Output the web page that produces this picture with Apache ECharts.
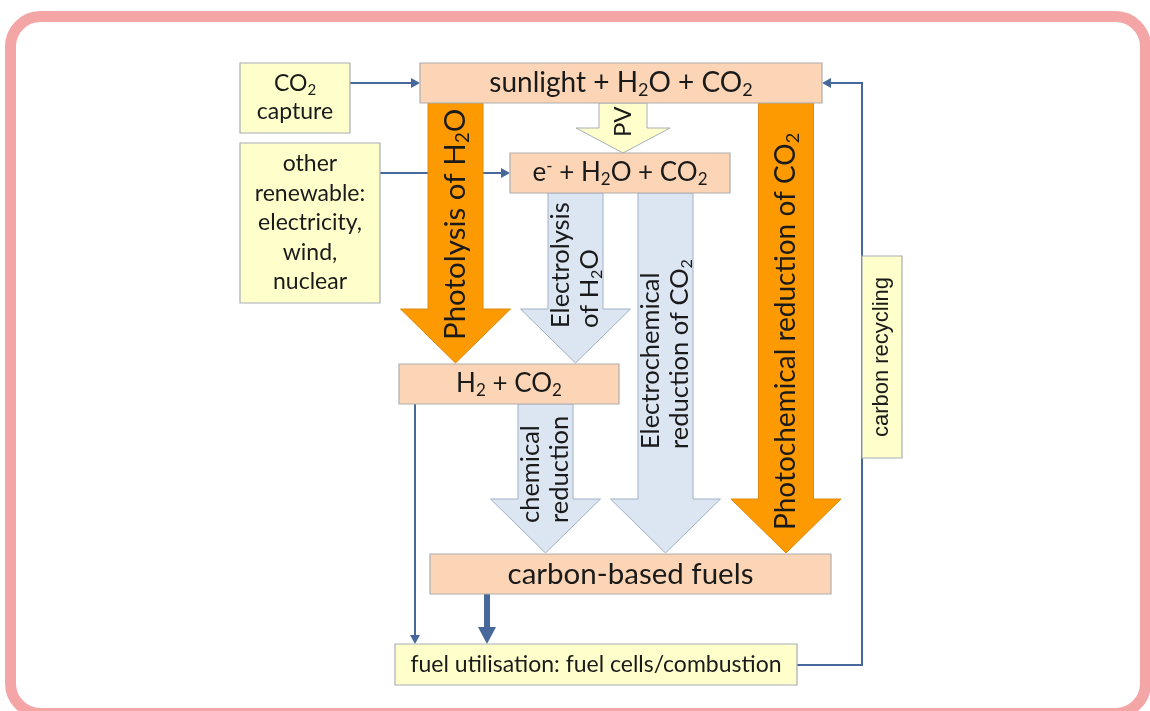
<!DOCTYPE html>
<html>
<head>
<meta charset="utf-8">
<title>Solar fuels pathways</title>
<script src="https://cdn.jsdelivr.net/npm/echarts/dist/echarts.min.js"></script>
<style>
  html, body { margin: 0; padding: 0; background: #fff; }
  #chart { width: 1150px; height: 711px; }
</style>
</head>
<body>
<div id="chart"></div>
<script>
// ---- diagram content (diagram units = the hidden axes below) ----
// boxes: label text and extent [x0, y0, x1, y1]
const boxNames = [
  'CO{s|2}\ncapture',
  'other\nrenewable:\nelectricity,\nwind,\nnuclear',
  'sunlight + H{s|2}O + CO{s|2}',
  'e{u|-} + H{s|2}O + CO{s|2}',
  'H{s|2} + CO{s|2}',
  'carbon-based fuels',
  'fuel utilisation: fuel cells/combustion',
  'carbon recycling'
];
const boxKind = ['source', 'source', 'stage', 'stage', 'stage', 'stage', 'source', 'source'];
const boxExtent = [
  [240, 63, 350, 133],
  [240, 143, 380, 303],
  [420, 63, 822, 103],
  [510, 153, 730, 193],
  [399, 364, 619, 404],
  [430, 554, 831, 594],
  [395, 644, 797, 685],
  [862, 256, 902, 458]
];

// block arrows (processes): label, kind, geometry [xc, yTop, yHead, yTip, shaftW, headW]
const flowNames = [
  'Photolysis of H{s|2}O',
  'PV',
  'Electrolysis\nof H{s|2}O',
  'Electrochemical\nreduction of CO{s|2}',
  'Photochemical reduction of CO{s|2}',
  'chemical\nreduction'
];
const flowKind = ['photo', 'pv', 'electro', 'electro', 'photo', 'electro'];
const flowGeom = [
  [455.5, 103, 309, 363, 55, 110],
  [623, 103, 128, 153, 48, 94],
  [575.5, 193, 309, 363, 55, 110],
  [665.5, 193, 499, 553, 55, 110],
  [786, 103, 499, 553, 55, 110],
  [545.5, 404, 499, 553, 55, 110]
];
// where each rotated label starts (reading bottom to top)
const flowLabelStart = [340, 137, 328, 449, 530, 523];

// connectors: polyline points, last point is the arrow tip
const linkPaths = [
  [[350, 83], [420, 83]],
  [[380, 173], [510, 173]],
  [[415, 404], [415, 644]],
  [[487, 594], [487, 644]],
  [[797, 665], [862, 665], [862, 83], [822, 83]]
];
const linkKind = ['thin', 'thin', 'thin', 'thick', 'thin'];

// ---- styles ----
const FONT = 'Lato, Carlito, Calibri, sans-serif';
const SANS = '"Liberation Sans", Arial, sans-serif';
const INK = '#1a1a1a';
const boxStyle = {
  source: { fill: '#ffffcc', stroke: '#a7aeb6' },
  stage: { fill: '#fbd5b5', stroke: '#b0aeb0' }
};
// label font per box: [size, lineHeight, family]
const boxFontMap = {
  0: [23, 28, FONT], 1: [23, 29.5, FONT], 2: [28, 32, FONT], 3: [26, 30, FONT],
  4: [26, 30, FONT], 5: [29.5, 32, FONT], 6: [23, 28, FONT], 7: [22, 24, SANS]
};
const flowStyle = {
  photo: { fill: '#fd9a01', stroke: '#e08a0a' },
  pv: { fill: '#ffffcc', stroke: '#a7aeb6' },
  electro: { fill: '#dce6f2', stroke: '#9fb0c6' }
};
const flowFontMap = { 0: 29.5, 1: 24, 2: 25.5, 3: 25.5, 4: 28, 5: 25.5 };
const linkStyle = {
  thin: { width: 2, headLen: 9, headHalf: 5 },
  thick: { width: 6, headLen: 17, headHalf: 9 }
};
const LINK_COLOR = '#46689a';

function richFor(size, family) {
  const small = Math.round(size * 0.64);
  return {
    s: { fontSize: small, lineHeight: small, fontFamily: family, fill: INK, padding: [Math.round(size * 0.5), 0, 0, 0] },
    u: { fontSize: small, lineHeight: small, fontFamily: family, fill: INK, padding: [0, 0, Math.round(size * 0.5), 0] }
  };
}

function renderLink(params, api) {
  const i = params.dataIndex;
  const st = linkStyle[linkKind[i]];
  const pts = linkPaths[i].map(p => api.coord(p));
  const tip = pts[pts.length - 1];
  const prev = pts[pts.length - 2];
  const dx = tip[0] - prev[0], dy = tip[1] - prev[1];
  const len = Math.sqrt(dx * dx + dy * dy);
  const ux = dx / len, uy = dy / len;
  const bx = tip[0] - ux * st.headLen, by = tip[1] - uy * st.headLen;
  const line = pts.slice(0, -1).concat([[bx + ux, by + uy]]);
  return {
    type: 'group',
    children: [
      { type: 'polyline', shape: { points: line }, style: { stroke: LINK_COLOR, lineWidth: st.width, fill: null } },
      {
        type: 'polygon',
        shape: { points: [tip, [bx - uy * st.headHalf, by + ux * st.headHalf], [bx + uy * st.headHalf, by - ux * st.headHalf]] },
        style: { fill: LINK_COLOR }
      }
    ]
  };
}

function renderFlow(params, api) {
  const i = params.dataIndex;
  const g = flowGeom[i];
  const st = flowStyle[flowKind[i]];
  const size = flowFontMap[i];
  const sw = g[4] / 2, hw = g[5] / 2;
  const pts = [
    [g[0] - sw, g[1]], [g[0] + sw, g[1]], [g[0] + sw, g[2]], [g[0] + hw, g[2]],
    [g[0], g[3]], [g[0] - hw, g[2]], [g[0] - sw, g[2]]
  ].map(p => api.coord(p));
  const anchor = api.coord([g[0], flowLabelStart[i]]);
  return {
    type: 'group',
    children: [
      { type: 'polygon', shape: { points: pts }, style: { fill: st.fill, stroke: st.stroke, lineWidth: 1 } },
      {
        type: 'text', x: anchor[0], y: anchor[1], rotation: Math.PI / 2,
        style: {
          text: flowNames[i], fill: INK, fontSize: size, fontFamily: FONT,
          lineHeight: Math.round(size * 1.13), align: 'left', verticalAlign: 'middle',
          rich: richFor(size, FONT)
        }
      }
    ]
  };
}

function renderBox(params, api) {
  const i = params.dataIndex;
  const e = boxExtent[i];
  const p0 = api.coord([e[0], e[1]]);
  const p1 = api.coord([e[2], e[3]]);
  const st = boxStyle[boxKind[i]];
  const f = boxFontMap[i];
  return {
    type: 'group',
    children: [
      {
        type: 'rect', shape: { x: p0[0], y: p0[1], width: p1[0] - p0[0], height: p1[1] - p0[1] },
        style: { fill: st.fill, stroke: st.stroke, lineWidth: 1.2 }
      },
      {
        type: 'text', x: (p0[0] + p1[0]) / 2, y: (p0[1] + p1[1]) / 2,
        rotation: i === 7 ? Math.PI / 2 : 0,
        style: {
          text: boxNames[i], fill: INK, fontSize: f[0], fontFamily: f[2], lineHeight: f[1],
          align: 'center', verticalAlign: 'middle', rich: richFor(f[0], f[2])
        }
      }
    ]
  };
}

const chart = echarts.init(document.getElementById('chart'));
chart.setOption({
  animation: false,
  backgroundColor: '#fff',
  grid: { left: 0, right: 0, top: 0, bottom: 0 },
  xAxis: { type: 'value', min: 0, max: 1150, show: false },
  yAxis: { type: 'value', min: 0, max: 711, inverse: true, show: false },
  graphic: [{
    type: 'rect', z: -10,
    shape: { x: 10.5, y: 16.5, width: 1135, height: 697, r: 30 },
    style: { fill: 'none', stroke: '#f4a6a6', lineWidth: 11 }
  }],
  series: [
    { type: 'custom', name: 'links', z: 1, renderItem: renderLink, data: linkPaths.map(p => p[p.length - 1]) },
    { type: 'custom', name: 'processes', z: 2, renderItem: renderFlow, data: flowGeom.map(g => [g[0], g[3]]) },
    { type: 'custom', name: 'stages', z: 3, renderItem: renderBox, data: boxExtent.map(e => [e[0], e[1]]) }
  ]
});
</script>
</body>
</html>
